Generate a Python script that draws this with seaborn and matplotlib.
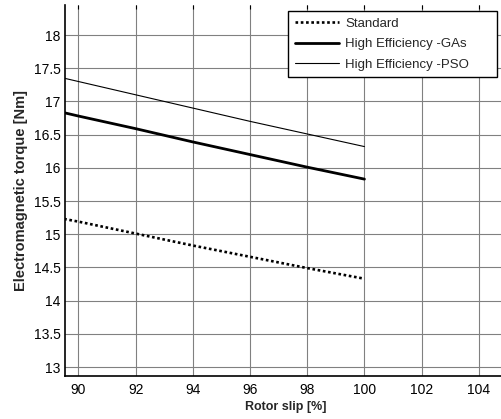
import matplotlib
matplotlib.use("Agg")
import matplotlib.pyplot as plt
import seaborn as sns
import pandas as pd

slip = [89.5, 90, 92, 94, 96, 98, 100]
standard = [15.23, 15.19, 15.01, 14.83, 14.66, 14.49, 14.33]
ga = [16.83, 16.78, 16.59, 16.39, 16.20, 16.01, 15.83]
pso = [17.35, 17.30, 17.10, 16.90, 16.70, 16.51, 16.32]
labels = ["Standard", "High Efficiency -GAs", "High Efficiency -PSO"]
xticks = [90, 92, 94, 96, 98, 100, 102, 104]
yticks = [13, 13.5, 14, 14.5, 15, 15.5, 16, 16.5, 17, 17.5, 18]

sns.set_style("white")
plt.rcParams['font.family'] = ['Liberation Sans', 'DejaVu Sans']

W, H = 501, 419
fig = plt.figure(figsize=(W / 100, H / 100), dpi=100)
xlo, xhi = 89.53, 105.0
ylo, yhi = 12.865, 18.45
axl, axb = 65 / W, 43 / H
axw = (xhi - xlo) * 28.6 / W
axh = (yhi - ylo) * 66.4 / H
ax = fig.add_axes([axl, axb, axw, axh])

df = pd.DataFrame({"x": slip * 3,
                   "y": standard + ga + pso,
                   "s": [labels[0]] * len(slip) + [labels[1]] * len(slip) + [labels[2]] * len(slip)})
styles = {labels[0]: dict(ls=(0, (1, 1)), lw=1.9), labels[1]: dict(ls="-", lw=2.0), labels[2]: dict(ls="-", lw=0.8)}
for lab in labels:
    sub = df[df.s == lab]
    sns.lineplot(data=sub, x="x", y="y", ax=ax, color="black", label=lab,
                 linestyle=styles[lab]["ls"], linewidth=styles[lab]["lw"])

ax.set_xlim(xlo, xhi)
ax.set_ylim(ylo, yhi)
ax.set_xticks(xticks)
ax.set_yticks(yticks)
ax.set_xticklabels([str(v) for v in xticks])
ax.set_yticklabels(["%g" % v for v in yticks])
ax.grid(True, color="#808080", linewidth=0.8)
ax.tick_params(direction="in", length=3, labelsize=10, colors="black", top=True, right=False)
ax.tick_params(axis="y", pad=3)
ax.tick_params(axis="x", pad=5)
for side in ["left", "bottom"]:
    ax.spines[side].set_color("black")
    ax.spines[side].set_linewidth(1.2)
ax.spines["top"].set_visible(False)
ax.spines["right"].set_visible(False)
ax.set_xlabel("Rotor slip [%]", fontsize=9, fontweight="bold", labelpad=3)
ax.set_ylabel("Electromagnetic torque [Nm]", fontsize=10.5, fontweight="bold", labelpad=4)

# legend box in figure pixels: x 288..497, y 11..77 (from top)
lx0, lx1, ly0, ly1 = 288, 497, 11, 77
leg = ax.legend(loc="upper left",
                bbox_to_anchor=(lx0 / W, 1 - ly1 / H, (lx1 - lx0) / W, (ly1 - ly0) / H),
                bbox_transform=fig.transFigure, mode="expand",
                fontsize=9.5, frameon=True, fancybox=False, edgecolor="black",
                framealpha=1, borderpad=0.5, handlelength=3.4, labelspacing=0.62, handletextpad=0.45,
                borderaxespad=0)
leg.get_frame().set_linewidth(1.0)

fig.savefig("out.png", dpi=100)
